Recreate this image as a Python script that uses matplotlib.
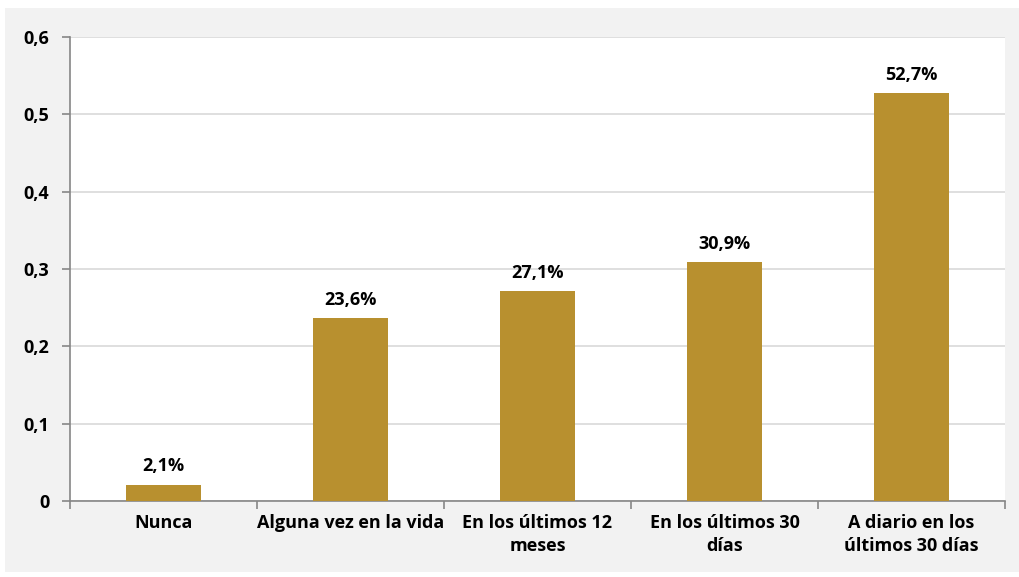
import matplotlib.pyplot as plt
from matplotlib.patches import Rectangle
import numpy as np

categorias = ['Nunca', 'Alguna vez en la vida', 'En los últimos 12\nmeses',
              'En los últimos 30\ndías', 'A diario en los\núltimos 30 días']
valores = [0.021, 0.236, 0.271, 0.309, 0.527]
etiquetas = ['2,1%', '23,6%', '27,1%', '30,9%', '52,7%']
yticks = [0, 0.1, 0.2, 0.3, 0.4, 0.5, 0.6]
ytick_labels = ['0', '0,1', '0,2', '0,3', '0,4', '0,5', '0,6']

plt.rcParams['font.family'] = ['Open Sans', 'DejaVu Sans']
plt.rcParams['font.weight'] = 'bold'

fig = plt.figure(figsize=(10.19, 5.77), dpi=100, facecolor='white')
# panel gris de fondo
fig.patches.append(Rectangle((5 / 1019, 5 / 577), 1 - 5 / 1019, 1 - 13 / 577,
                             transform=fig.transFigure, facecolor='#f2f2f2',
                             edgecolor='none', zorder=-10))

ax = fig.add_axes([70 / 1019, 76 / 577, 935 / 1019, 464 / 577])
ax.set_facecolor('white')

x = np.arange(len(categorias))
ax.bar(x, valores, width=0.4, color='#B8902F', zorder=3)
for xi, v, t in zip(x, valores, etiquetas):
    ax.text(xi, v + 0.012, t, ha='center', va='bottom', fontsize=13, fontweight='bold')

ax.set_xlim(-0.5, len(categorias) - 0.5)
ax.set_ylim(0, 0.6)
ax.set_yticks(yticks)
ax.set_yticklabels(ytick_labels, fontsize=13, fontweight='bold')
ax.yaxis.grid(True, color='#d9d9d9', linewidth=1.2, zorder=0)
ax.set_axisbelow(True)

ax.set_xticks(x)
ax.set_xticklabels(categorias, fontsize=13, fontweight='bold', linespacing=1.4)
ax.tick_params(axis='x', which='major', length=0, pad=9)
ax.set_xticks(np.arange(-0.5, len(categorias)), minor=True)
ax.tick_params(axis='x', which='minor', length=6, color='#868686', width=1.2)
ax.tick_params(axis='y', length=6, color='#868686', width=1.2, pad=9)

for s in ['top', 'right']:
    ax.spines[s].set_visible(False)
for s in ['left', 'bottom']:
    ax.spines[s].set_color('#868686')
    ax.spines[s].set_linewidth(1.2)

fig.savefig('out.png', dpi=100, facecolor=fig.get_facecolor())
